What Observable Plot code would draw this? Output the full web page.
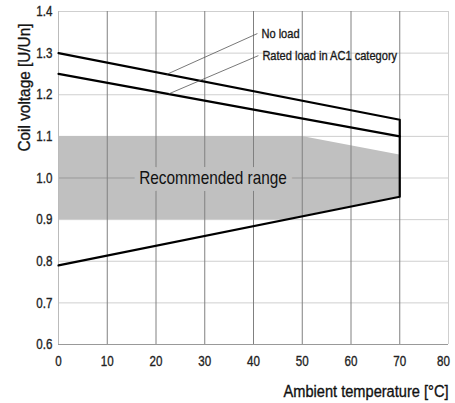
<!DOCTYPE html>
<html><head><meta charset="utf-8">
<script src="https://cdn.jsdelivr.net/npm/d3@7"></script>
<script src="https://cdn.jsdelivr.net/npm/@observablehq/plot@0.6"></script>
<style>
html,body{margin:0;padding:0;background:#fff;}
#chart svg{font-family:"Liberation Sans",Arial,sans-serif;}
</style></head><body><div id="chart"></div>
<script>
// Data
const temps = [0, 70];
const noLoad = [1.30, 1.14];
const ratedLoad = [1.25, 1.10];
const minVoltage = [0.79, 0.955];
// recommended range polygon edges
const rangeX = [0, 46.7, 50, 70];
const rangeTop = [1.1, 1.1, 1.1, 1.055];
const rangeBottom = [0.9, 0.9, 0.908, 0.955];
const xTicks = [0, 10, 20, 30, 40, 50, 60, 70, 80];
const yTicks = [0.6, 0.7, 0.8, 0.9, 1.0, 1.1, 1.2, 1.3, 1.4];
const labels = ["No load", "Rated load in AC1 category"];
const leaderFrom = [[22.2, 1.249], [22.6, 1.202]];
const leaderTo = [[40.8, 1.347], [41.0, 1.294]];

const outline = [
  {x: temps[0], y: minVoltage[0]}, {x: temps[1], y: minVoltage[1]},
  {x: temps[1], y: noLoad[1]}, {x: temps[0], y: noLoad[0]}
];
const rated = temps.map((t, i) => ({x: t, y: ratedLoad[i]}));
const range = rangeX.map((x, i) => ({x, y1: rangeBottom[i], y2: rangeTop[i]}));
const leaders = labels.map((l, i) => ({x1: leaderFrom[i][0], y1: leaderFrom[i][1], x2: leaderTo[i][0], y2: leaderTo[i][1], label: l}));

const plot = Plot.plot({
  width: 455, height: 403,
  marginLeft: 58, marginRight: 7, marginTop: 11, marginBottom: 59,
  x: {domain: [0, 80]},
  y: {domain: [0.6, 1.4]},
  style: {fontSize: "14px", color: "#222"},
  marks: [
    Plot.gridY(yTicks.slice(1), {stroke: "#cfcfcf", strokeOpacity: 1}),
    Plot.gridX([80], {stroke: "#cfcfcf", strokeOpacity: 1}),
    Plot.areaY(range, {x: "x", y1: "y1", y2: "y2", fill: "#c0c0c0"}),
    Plot.ruleY([1.0], {x1: 0, x2: 70, stroke: "#999"}),
    Plot.gridX(xTicks.slice(1, 8), {stroke: "#808080", strokeOpacity: 1}),
    Plot.ruleX([0], {stroke: "#bbb"}),
    Plot.ruleY([0.6], {stroke: "#999"}),
    Plot.text(["Recommended range"], {x: 31.7, y: 1.0, fontSize: 18.5, fill: "#111", stroke: "#c0c0c0", strokeWidth: 14, textAnchor: "middle", lineAnchor: "middle", className: "c83"}),
    Plot.line(outline, {x: "x", y: "y", stroke: "#000", strokeWidth: 2.2}),
    Plot.line(rated, {x: "x", y: "y", stroke: "#000", strokeWidth: 2.2}),
    Plot.link(leaders, {x1: "x1", y1: "y1", x2: "x2", y2: "y2", stroke: "#555", strokeWidth: 0.8}),
    Plot.text(leaders, {x: "x2", y: "y2", text: "label", dx: 4, textAnchor: "start", fontSize: 13.5, fill: "#111", className: "c82"}),
    Plot.axisY(yTicks, {tickSize: 0, tickPadding: 6, tickFormat: d3.format(".1f"), label: null, fontSize: 14.5, fill: "#222", className: "c80"}),
    Plot.axisX(xTicks.slice(0, 8), {tickSize: 0, tickPadding: 11, label: null, fontSize: 14.5, fill: "#222", className: "c80"}),
    Plot.axisX(xTicks.slice(8), {tickSize: 0, tickPadding: 11, dx: -5, label: null, fontSize: 14.5, fill: "#222", className: "c80"}),
    Plot.text(["Ambient temperature [°C]"], {frameAnchor: "bottom-right", dy: 47, textAnchor: "end", lineAnchor: "middle", fontSize: 17, fill: "#111", className: "xtitle"}),
    Plot.text(["Coil voltage [U/Un]"], {frameAnchor: "top-left", dx: -34, dy: 12, rotate: -90, textAnchor: "end", lineAnchor: "middle", fontSize: 16, fill: "#111", className: "c96"})
  ]
});
document.getElementById("chart").appendChild(plot);
// condense the text (the reference uses a condensed typeface) and thicken it slightly
const factors = {c80: 0.8, c82: 0.82, c83: 0.83, c96: 0.96};
for (const [cls, f] of Object.entries(factors)) {
  plot.querySelectorAll("." + cls + " text").forEach(t => {
    const w = t.getComputedTextLength();
    t.setAttribute("textLength", (w * f).toFixed(2));
    t.setAttribute("lengthAdjust", "spacingAndGlyphs");
    if (cls !== "c83") {
      t.setAttribute("stroke", t.getAttribute("fill") || "#222");
      t.setAttribute("stroke-width", "0.35");
    }
  });
}
// x title: condensed with a horizontal scale around its anchor
plot.querySelectorAll(".xtitle text").forEach(t => {
  const xa = t.getAttribute("x");
  const x = xa !== null && !isNaN(+xa) ? +xa : 0;
  if (xa !== null && !isNaN(+xa)) t.removeAttribute("x");
  const tr = t.getAttribute("transform") || "";
  t.setAttribute("transform", `${tr} translate(${x},0) scale(0.86,1)`);
  t.setAttribute("stroke", "#111");
  t.setAttribute("stroke-width", "0.35");
});
</script></body></html>
